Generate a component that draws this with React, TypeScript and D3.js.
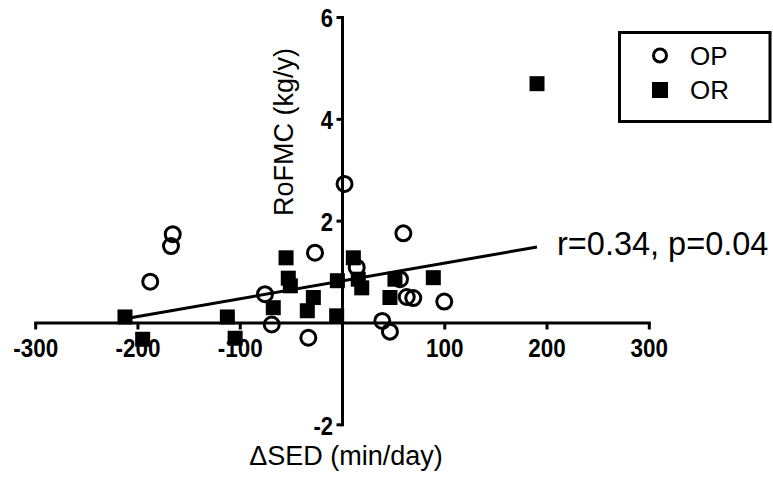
import React from "react";
import * as d3 from "d3";

// ---- data ----
const opX = [-166, -167.7, -188, -75.8, -69.2, -26.9, -33.4, 2, 13.9, 59.5, 56.2, 62.8, 69.2, 99.5, 38.9, 46.4];
const opY = [1.745, 1.51, 0.81, 0.565, -0.03, 1.38, -0.29, 2.73, 1.09, 1.76, 0.86, 0.51, 0.49, 0.42, 0.04, -0.17];
const orX = [-212.7, -112.6, -195.4, -105, -67.7, -55.2, -53, -51, -28.5, -34.4, -5, -5.7, 10.6, 15.4, 18.8, 51.3, 46.4, 88.8, 190.2];
const orY = [0.118, 0.118, -0.32, -0.3, 0.3, 1.28, 0.88, 0.73, 0.5, 0.24, 0.83, 0.14, 1.28, 0.86, 0.69, 0.86, 0.5, 0.89, 4.7];
const fitIntercept = 0.826;
const fitSlope = 0.0035;
const xTicks = [-300, -200, -100, 100, 200, 300];
const yTicks = [6, 4, 2, -2];
const seriesNames = ["OP", "OR"];
const xLabel = "\u0394SED (min/day)";
const yLabel = "RoFMC (kg/y)";
const statText = "r=0.34, p=0.04";

const W = 773;
const H = 479;

export default function App() {
  const x = d3.scaleLinear().domain([-300, 300]).range([35.7, 649.3]);
  const y = d3.scaleLinear().domain([-2, 6]).range([424.8, 17.5]);
  const x0 = x(0);
  const y0 = y(0);

  const allX = [...opX, ...orX];
  const xMin = d3.min(allX) as number;
  const xMax = d3.max(allX) as number;
  const fitLine = d3
    .line<number>()
    .x((d) => x(d))
    .y((d) => y(fitIntercept + fitSlope * d));

  const op = opX.map((v, i) => [v, opY[i]]);
  const or = orX.map((v, i) => [v, orY[i]]);
  const sq = 15;
  const font = "'Liberation Sans', Arial, Helvetica, sans-serif";

  return (
    <div style={{ position: "absolute", left: 0, top: 0, width: W, height: H, background: "#fff" }}>
      <svg width={W} height={H} style={{ display: "block" }} fontFamily={font}>
        <rect x={0} y={0} width={W} height={H} fill="#fff" />
        {/* x axis */}
        <line x1={x(-300)} x2={x(300)} y1={y0} y2={y0} stroke="#000" strokeWidth={3} strokeLinecap="square" />
        {[-300, -200, -100, 100, 200, 300].map((t) => (
          <line key={"xt" + t} x1={x(t)} x2={x(t)} y1={y0} y2={y0 + 6.5} stroke="#000" strokeWidth={3} />
        ))}
        {xTicks.map((t) => (
          <text
            key={"xl" + t}
            transform={`translate(${x(t)},357) scale(0.88,1)`}
            textAnchor="middle"
            fontSize={25.5}
            fontWeight="bold"
            fill="#000"
          >
            {String(t)}
          </text>
        ))}
        {/* y axis */}
        <line x1={x0} x2={x0} y1={y(6)} y2={y(-2)} stroke="#000" strokeWidth={3} strokeLinecap="square" />
        {[6, 4, 2, -2].map((t) => (
          <line key={"yt" + t} x1={x0 - 6} x2={x0} y1={y(t)} y2={y(t)} stroke="#000" strokeWidth={3} />
        ))}
        {yTicks.map((t) => (
          <text
            key={"yl" + t}
            transform={`translate(333,${y(t) + 1}) scale(0.88,1)`}
            dy="0.35em"
            textAnchor="end"
            fontSize={25}
            fontWeight="bold"
            fill="#000"
          >
            {String(t)}
          </text>
        ))}
        {/* axis titles */}
        <text x={346} y={465} textAnchor="middle" fontSize={27} fill="#000">
          {xLabel}
        </text>
        <text transform={`translate(293,132) rotate(-90)`} textAnchor="middle" fontSize={27} fill="#000">
          {yLabel}
        </text>
        {/* regression line */}
        <path d={fitLine([xMin, xMax]) || ""} fill="none" stroke="#000" strokeWidth={3} />
        {/* OP circles */}
        {op.map((d, i) => (
          <circle key={"op" + i} cx={x(d[0])} cy={y(d[1])} r={7.5} fill="none" stroke="#000" strokeWidth={3} />
        ))}
        {/* OR squares */}
        {or.map((d, i) => (
          <rect key={"or" + i} x={x(d[0]) - sq / 2} y={y(d[1]) - sq / 2} width={sq} height={sq} fill="#000" />
        ))}
        {/* stat text */}
        <text x={557} y={255} fontSize={32.5} fill="#000">
          {statText}
        </text>
        {/* legend */}
        <rect x={619.5} y={32.5} width={150.5} height={89} fill="#fff" stroke="#000" strokeWidth={3} />
        <circle cx={660} cy={55.5} r={6.5} fill="none" stroke="#000" strokeWidth={3} />
        <rect x={652} y={82} width={16} height={16} fill="#000" />
        <text x={690} y={65} fontSize={26} fill="#000">
          {seriesNames[0]}
        </text>
        <text x={690} y={99} fontSize={26} fill="#000">
          {seriesNames[1]}
        </text>
      </svg>
    </div>
  );
}
